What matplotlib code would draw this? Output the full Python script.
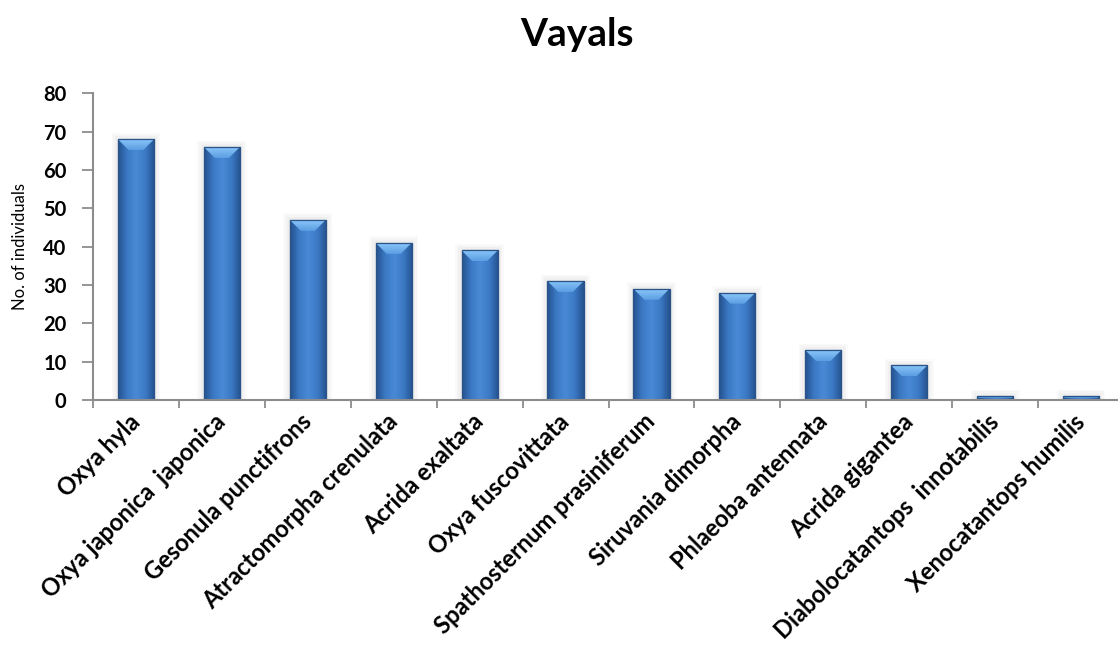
import numpy as np
import matplotlib
matplotlib.use("Agg")
import matplotlib.pyplot as plt
from matplotlib.patches import Polygon, Rectangle
from matplotlib.colors import LinearSegmentedColormap

plt.rcParams['font.family'] = ['Lato', 'DejaVu Sans']

species = [
    "Oxya hyla", "Oxya japonica  japonica", "Gesonula punctifrons",
    "Atractomorpha crenulata", "Acrida exaltata", "Oxya fuscovittata",
    "Spathosternum prasiniferum", "Siruvania dimorpha", "Phlaeoba antennata",
    "Acrida gigantea", "Diabolocatantops  innotabilis", "Xenocatantops humilis",
]
counts = [68, 66, 47, 41, 39, 31, 29, 28, 13, 9, 1, 1]
yticks = [0, 10, 20, 30, 40, 50, 60, 70, 80]

W, H = 1118, 661
fig = plt.figure(figsize=(W / 100, H / 100), dpi=100)
ax = fig.add_axes([93 / W, (H - 400) / H, (1124 - 93) / W, (400 - 93.3) / H])

x = np.arange(len(species))
bar_w = 0.42
bars = ax.bar(x, counts, width=bar_w, color="#3F77BC", edgecolor="#2A5488",
              linewidth=0.8, zorder=2)

# horizontal shading across each bar: darker sides, lighter middle
body_cmap = LinearSegmentedColormap.from_list(
    "body", ["#24528E", "#3B79C4", "#4A8AD6", "#3B79C4", "#24528E"])
top_cmap = LinearSegmentedColormap.from_list(
    "top", ["#5C9DE2", "#88C6F8"])
grad = np.linspace(0, 1, 128).reshape(1, -1)
vgrad = np.linspace(0, 1, 64).reshape(-1, 1)

px_per_x = (1124 - 93) / 12.0
px_per_y = (400 - 93.3) / 80.0
for rect, h in zip(bars, counts):
    x0 = rect.get_x()
    x1 = x0 + rect.get_width()
    # soft grey halo behind the bar
    for k in range(1, 5):
        gx = k * 1.6 / px_per_x
        gy = k * 1.6 / px_per_y
        ax.add_patch(Rectangle((x0 - gx, 0), (x1 - x0) + 2 * gx, h + gy,
                               facecolor="#808080", edgecolor="none",
                               alpha=0.035, zorder=1.5))
    im = ax.imshow(grad, extent=(x0, x1, 0, h), aspect="auto", cmap=body_cmap,
                   zorder=2.1, interpolation="bicubic")
    im.set_clip_path(rect)
    # bevelled top face
    bh_px = min(11.0, h * px_per_y * 0.4)
    bh = bh_px / px_per_y
    bw = bh_px / px_per_x
    top = Polygon([(x0, h), (x1, h), (x1 - bw, h - bh), (x0 + bw, h - bh)],
                  closed=True, facecolor="none", edgecolor="none", zorder=2.2)
    ax.add_patch(top)
    tim = ax.imshow(vgrad, extent=(x0, x1, h - bh, h), aspect="auto",
                    cmap=top_cmap, origin="lower", zorder=2.2,
                    interpolation="bicubic")
    tim.set_clip_path(top)
    # outline drawn above the shading
    ax.add_patch(Rectangle((x0, 0), x1 - x0, h, fill=False,
                           edgecolor="#2A5488", linewidth=0.9, zorder=2.3))

ax.set_xlim(-0.5, len(species) - 0.5)
ax.set_ylim(0, 80)
ax.set_yticks(yticks)
ax.set_yticklabels([str(v) for v in yticks], fontsize=14.5, fontweight="bold")
ax.set_xticks(x)
ax.set_xticklabels(species, rotation=45, ha="right", va="center",
                   rotation_mode="anchor", fontsize=17, fontweight="bold")
ax.set_xticks(np.arange(-0.5, len(species)), minor=True)
ax.tick_params(axis="x", which="major", length=0, pad=13)
ax.tick_params(axis="x", which="minor", length=6, width=1.3, color="#8C8C8C",
               direction="out")
ax.tick_params(axis="y", length=8, width=1.3, color="#8C8C8C", pad=11)

for side in ("top", "right"):
    ax.spines[side].set_visible(False)
for side in ("left", "bottom"):
    ax.spines[side].set_color("#8C8C8C")
    ax.spines[side].set_linewidth(1.5)
    ax.spines[side].set_zorder(3)

ax.set_ylabel("No. of individuals", fontsize=12)
ax.yaxis.set_label_coords(-0.063, 0.5)

fig.text(577 / W, 1 - 34 / H, "Vayals", ha="center", va="center",
         fontsize=28, fontweight="bold")

fig.savefig("out.png", dpi=100)
